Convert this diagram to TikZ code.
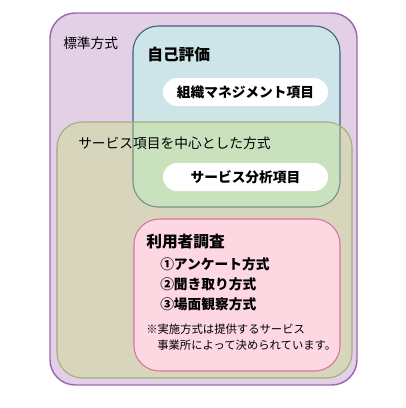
\documentclass[tikz,border=0pt]{standalone}
\usepackage{fontspec}
\setmainfont{Noto Sans CJK JP}
\definecolor{stdfill}{HTML}{E3CFE6}
\definecolor{stdline}{HTML}{9A6AAE}
\definecolor{selffill}{HTML}{CDE4E8}
\definecolor{selfline}{HTML}{3E5E88}
\definecolor{svcfill}{HTML}{C5E07D}
\definecolor{svcline}{HTML}{9DB07A}
\definecolor{userfill}{HTML}{FDD8E2}
\definecolor{userline}{HTML}{D9739A}
\tikzset{
  label/.style={anchor=west, inner sep=0pt, font=\fontsize{10.3}{12}\selectfont},
  heading/.style={anchor=west, inner sep=0pt, font=\fontsize{11.8}{14}\selectfont\bfseries},
  pilltext/.style={inner sep=0pt, font=\fontsize{10.3}{12}\selectfont\bfseries},
  note/.style={anchor=west, inner sep=0pt, font=\fontsize{8.5}{10}\selectfont}
}
\begin{document}
\begin{tikzpicture}[x=0.75pt, y=-0.75pt]
    \useasboundingbox (0, 0) rectangle (405, 408);
    % outer box
    \draw[stdline, fill=stdfill, line width=1.1pt, rounded corners=19pt] (50, 13) rectangle (357, 385);
    \node[label] (std) at (63, 43) {標準方式};
    % self evaluation
    \draw[selfline, fill=selffill, line width=0.8pt, rounded corners=19pt] (133, 26) rectangle (340, 207);
    \node[heading] (self) at (147, 55) {自己評価};
    \fill[white, rounded corners=10.4pt] (163, 78) rectangle (328, 106);
    \node[pilltext] (org) at (245.5, 92) {組織マネジメント項目};
    % service based
    \draw[svcline, fill=svcfill, fill opacity=0.4, line width=0.8pt, rounded corners=19pt] (57, 122) rectangle (352, 378);
    \node[label] (svc) at (78, 143) {サービス項目を中心とした方式};
    \fill[white, rounded corners=10.4pt] (163, 163) rectangle (328, 191);
    \node[pilltext] (ana) at (245.5, 177) {サービス分析項目};
    % user survey
    \draw[userline, fill=userfill, line width=0.8pt, rounded corners=19pt] (134, 219) rectangle (340, 371);
    \node[heading] (user) at (146, 242) {利用者調査};
    \node[pilltext, anchor=west] (m1) at (160, 264) {①アンケート方式};
    \node[pilltext, anchor=west] (m2) at (160, 284) {②聞き取り方式};
    \node[pilltext, anchor=west] (m3) at (160, 304) {③場面観察方式};
    \node[note] (n1) at (146, 329) {※実施方式は提供するサービス};
    \node[note] (n2) at (157, 345) {事業所によって決められています。};
\end{tikzpicture}
\end{document}
